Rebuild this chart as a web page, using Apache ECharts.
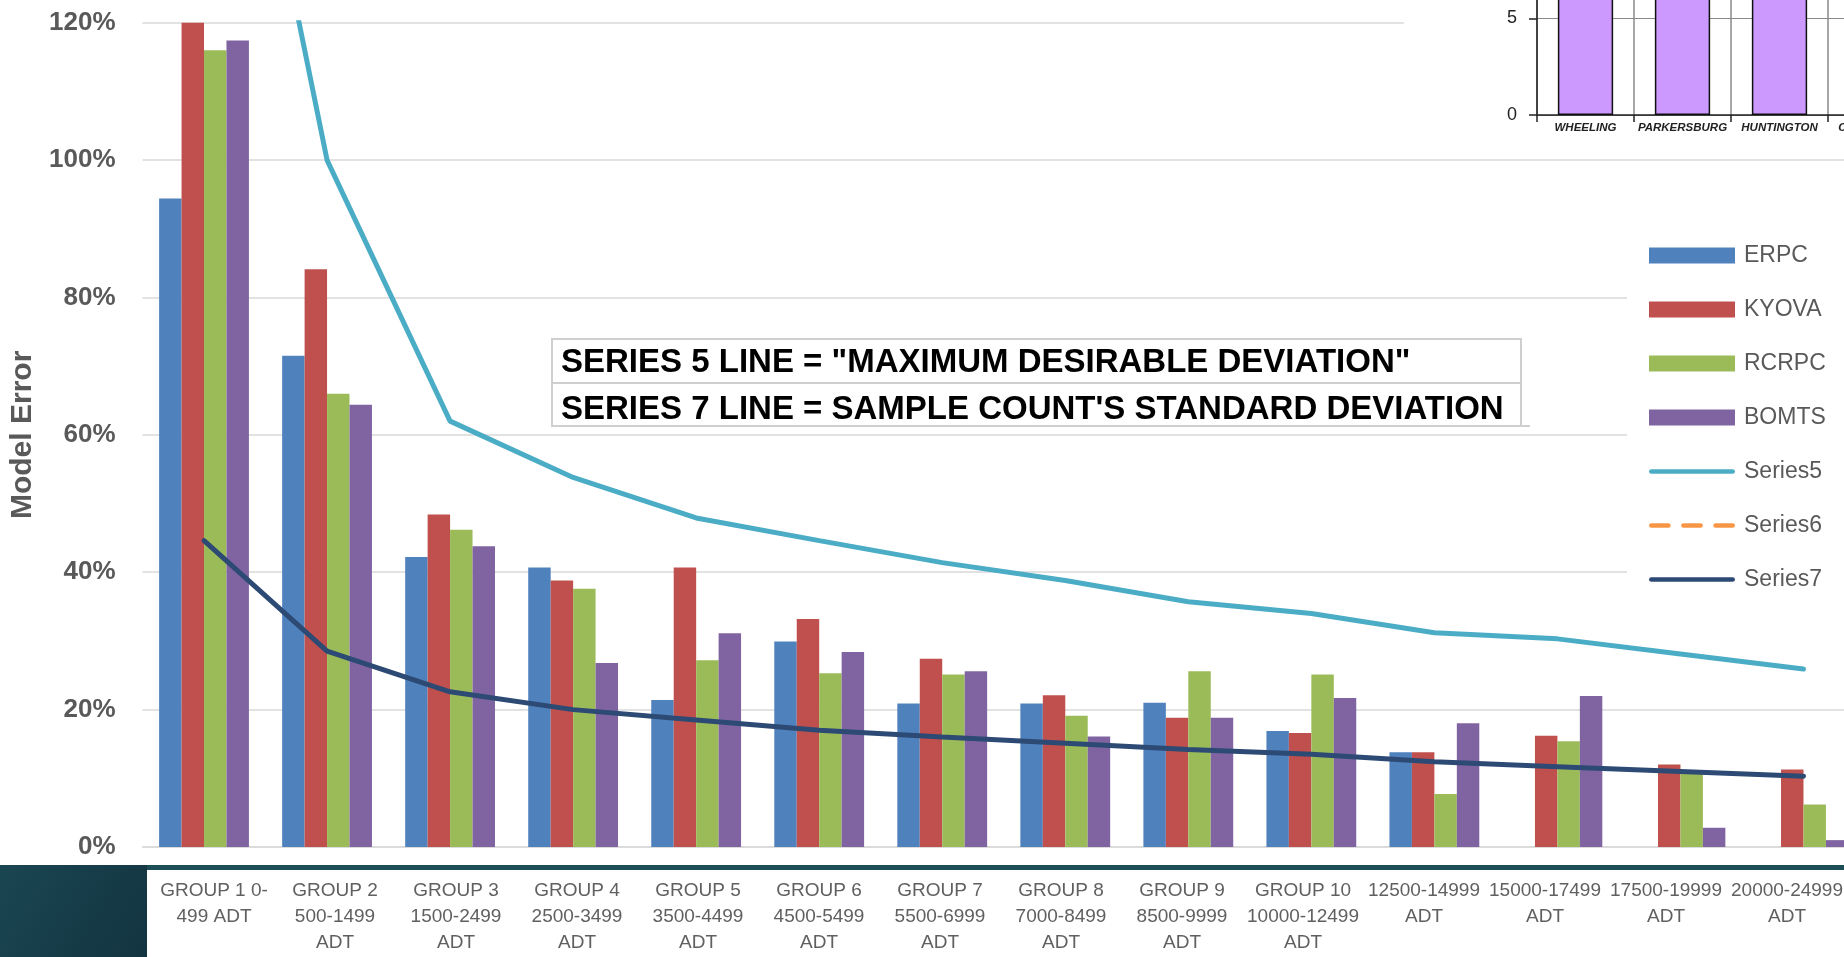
<!DOCTYPE html>
<html>
<head>
<meta charset="utf-8">
<script src="https://cdn.jsdelivr.net/npm/echarts@6/dist/echarts.min.js"></script>
<style>
  html, body { margin: 0; padding: 0; background: #fff; }
  #chart { width: 1844px; height: 957px; }
</style>
</head>
<body>
<div id="chart"></div>
<script>
// categories (ADT groups)
var categories = [
  'GROUP 1 0-499 ADT', 'GROUP 2 500-1499 ADT', 'GROUP 3 1500-2499 ADT', 'GROUP 4 2500-3499 ADT',
  'GROUP 5 3500-4499 ADT', 'GROUP 6 4500-5499 ADT', 'GROUP 7 5500-6999 ADT', 'GROUP 8 7000-8499 ADT',
  'GROUP 9 8500-9999 ADT', 'GROUP 10 10000-12499 ADT', 'GROUP 11 12500-14999 ADT',
  'GROUP 12 15000-17499 ADT', 'GROUP 13 17500-19999 ADT', 'GROUP 14 20000-24999 ADT'
];
// what is visible of each label in the label strip
var stripLabels = [
  'GROUP 1 0-\n499 ADT', 'GROUP 2\n500-1499\nADT', 'GROUP 3\n1500-2499\nADT', 'GROUP 4\n2500-3499\nADT',
  'GROUP 5\n3500-4499\nADT', 'GROUP 6\n4500-5499\nADT', 'GROUP 7\n5500-6999\nADT', 'GROUP 8\n7000-8499\nADT',
  'GROUP 9\n8500-9999\nADT', 'GROUP 10\n10000-12499\nADT', '12500-14999\nADT',
  '15000-17499\nADT', '17500-19999\nADT', '20000-24999\nADT'
];

// model error, percent
var erpc    = [94.4, 71.5, 42.2, 40.7, 21.4, 29.9, 20.9, 20.9, 21.0, 16.9, 13.8, null, null, null];
var kyova   = [120, 84.1, 48.4, 38.8, 40.7, 33.2, 27.4, 22.1, 18.8, 16.6, 13.8, 16.2, 12.0, 11.3];
var rcrpc   = [116.0, 66.0, 46.2, 37.6, 27.2, 25.3, 25.1, 19.1, 25.6, 25.1, 7.7, 15.4, 10.9, 6.2];
var bomts   = [117.4, 64.4, 43.8, 26.8, 31.1, 28.4, 25.6, 16.1, 18.8, 21.7, 18.0, 22.0, 2.8, 1.0];
var series5 = [188, 100, 62.0, 53.8, 47.9, 44.6, 41.4, 38.8, 35.7, 34.0, 31.2, 30.3, 28.1, 25.9];
var series6 = [null, null, null, null, null, null, null, null, null, null, null, null, null, null];
var series7 = [44.6, 28.5, 22.6, 20.0, 18.5, 17.0, 16.0, 15.1, 14.2, 13.5, 12.4, 11.7, 11.0, 10.3];

var yMax = 120;
var yStep = 20;

// pasted inset (top right)
var insetCities = ['WHEELING', 'PARKERSBURG', 'HUNTINGTON', 'CENTRAL WV'];
var insetCounts = [9, 9, 9, 9];

var note1 = 'SERIES 5 LINE = "MAXIMUM DESIRABLE DEVIATION"';
var note2 = "SERIES 7 LINE = SAMPLE COUNT'S STANDARD DEVIATION";

var font = 'Liberation Sans, Arial, sans-serif';
var grey = '#595959';

// legend icons for the line series (thick stroke, no marker)
var solidIcon = 'path://M2,0h86a2.5,2.5 0 0 1 0,5h-86a2.5,2.5 0 0 1 0,-5z';
var dashIcon = 'path://M2,0h18a2.5,2.5 0 0 1 0,5h-18a2.5,2.5 0 0 1 0,-5z' +
  'M36,0h18a2.5,2.5 0 0 1 0,5h-18a2.5,2.5 0 0 1 0,-5z' +
  'M70,0h18a2.5,2.5 0 0 1 0,5h-18a2.5,2.5 0 0 1 0,-5z';

var chart = echarts.init(document.getElementById('chart'));

function barSeries(name, data, color) {
  return {
    name: name, type: 'bar', data: data,
    xAxisIndex: 0, yAxisIndex: 0,
    barGap: 0, barCategoryGap: '27%',
    itemStyle: { color: color }
  };
}
function lineSeries(name, data, color, dash) {
  return {
    name: name, type: 'line', data: data,
    xAxisIndex: 0, yAxisIndex: 0,
    symbol: 'none', showSymbol: false, clip: true, z: 3,
    lineStyle: { color: color, width: 5, type: dash || 'solid', cap: 'round' },
    itemStyle: { color: color }
  };
}

var option = {
  animation: false,
  backgroundColor: '#fff',
  textStyle: { fontFamily: font },
  grid: [
    { left: 142.5, right: -21, top: 22.7, bottom: 110, outerBoundsMode: 'none' },
    { left: 153.5, right: -3.5, top: 869, height: 1, outerBoundsMode: 'none' },
    { left: 1537, right: -81, top: -78.4, bottom: 842, outerBoundsMode: 'none' }
  ],
  xAxis: [
    {
      type: 'category', gridIndex: 0, data: categories,
      axisLine: { lineStyle: { color: '#d9d9d9', width: 1.5 } },
      axisTick: { show: false }, axisLabel: { show: false }
    },
    {
      type: 'category', gridIndex: 1, data: stripLabels,
      axisLine: { show: false }, axisTick: { show: false },
      axisLabel: { interval: 0, color: '#606060', fontSize: 19, lineHeight: 26, margin: 8, fontFamily: font }
    },
    {
      type: 'category', gridIndex: 2, data: insetCities, z: 6,
      axisLine: { lineStyle: { color: '#222', width: 1.5 } },
      axisTick: { show: true, length: 7, lineStyle: { color: '#222', width: 1.5 } },
      splitLine: { show: true, interval: 0, lineStyle: { color: '#8a8a8a', width: 1.5 } },
      axisLabel: { interval: 0, fontStyle: 'italic', fontWeight: 'bold', fontSize: 11.5, color: '#222', margin: 7 }
    }
  ],
  yAxis: [
    {
      type: 'value', gridIndex: 0, min: 0, max: yMax, interval: yStep,
      name: 'Model Error', nameLocation: 'middle', nameGap: 105,
      nameTextStyle: { fontSize: 30, fontWeight: 'bold', color: grey },
      axisLine: { show: false }, axisTick: { show: false },
      axisLabel: { formatter: '{value}%', fontSize: 26, fontWeight: 'bold', color: grey, margin: 27 },
      splitLine: { lineStyle: { color: '#d9d9d9', width: 1.5 } }
    },
    { type: 'value', gridIndex: 1, show: false },
    {
      type: 'value', gridIndex: 2, min: 0, max: 10, interval: 5, z: 6,
      axisLine: { show: true, lineStyle: { color: '#222', width: 1.5 } },
      axisTick: { show: true, length: 8, lineStyle: { color: '#222', width: 1.5 } },
      axisLabel: { fontSize: 18, color: '#222', margin: 20 },
      splitLine: { lineStyle: { color: '#8a8a8a', width: 1 } }
    }
  ],
  legend: {
    orient: 'vertical', left: 1644, top: 239,
    itemWidth: 86, itemHeight: 16, itemGap: 31,
    textStyle: { fontSize: 23, color: grey, fontFamily: font, padding: [0, 0, 0, 4] },
    data: [
      { name: 'ERPC', icon: 'rect' }, { name: 'KYOVA', icon: 'rect' },
      { name: 'RCRPC', icon: 'rect' }, { name: 'BOMTS', icon: 'rect' },
      { name: 'Series5', icon: solidIcon }, { name: 'Series6', icon: dashIcon },
      { name: 'Series7', icon: solidIcon }
    ]
  },
  series: [
    barSeries('ERPC', erpc, '#4f81bd'),
    barSeries('KYOVA', kyova, '#c0504d'),
    barSeries('RCRPC', rcrpc, '#9bbb59'),
    barSeries('BOMTS', bomts, '#8064a2'),
    lineSeries('Series5', series5, '#4bacc6'),
    lineSeries('Series6', series6, '#f79646', [22, 10]),
    lineSeries('Series7', series7, '#2c4a74'),
    {
      name: 'inset', type: 'bar', data: insetCounts,
      xAxisIndex: 2, yAxisIndex: 2, z: 6,
      barCategoryGap: '43%',
      itemStyle: { color: '#cc99ff', borderColor: '#111', borderWidth: 1.5 }
    }
  ],
  graphic: [
    // white patch under the pasted inset
    { type: 'rect', z: 1, shape: { x: 1404, y: 0, width: 440, height: 152 }, style: { fill: '#fff' } },
    // white patch behind the legend
    { type: 'rect', z: 1, shape: { x: 1627, y: 176, width: 217, height: 500 }, style: { fill: '#fff' } },
    // note box
    {
      type: 'group', z: 8,
      children: [
        { type: 'rect', shape: { x: 552, y: 339, width: 969, height: 87 }, style: { fill: '#fff', stroke: '#cfcfcf', lineWidth: 2 } },
        { type: 'line', shape: { x1: 552, y1: 383, x2: 1521, y2: 383 }, style: { stroke: '#cfcfcf', lineWidth: 2 } },
        { type: 'line', shape: { x1: 1521, y1: 426, x2: 1530, y2: 426 }, style: { stroke: '#cfcfcf', lineWidth: 2 } },
        { type: 'text', x: 561, y: 363, style: { text: note1, font: 'bold 33px ' + font, fill: '#000', verticalAlign: 'middle' } },
        { type: 'text', x: 561, y: 410, style: { text: note2, font: 'bold 33px ' + font, fill: '#000', verticalAlign: 'middle' } }
      ]
    },
    // dark band at the bottom
    { type: 'rect', z: 20, shape: { x: 0, y: 865, width: 1844, height: 5 }, style: { fill: '#1d4d57' } },
    {
      type: 'rect', z: 20, shape: { x: 0, y: 865, width: 147, height: 92 },
      style: {
        fill: new echarts.graphic.LinearGradient(0, 0, 1, 1, [
          { offset: 0, color: '#1a4652' },
          { offset: 1, color: '#123440' }
        ])
      }
    }
  ]
};

chart.setOption(option);
</script>
</body>
</html>
